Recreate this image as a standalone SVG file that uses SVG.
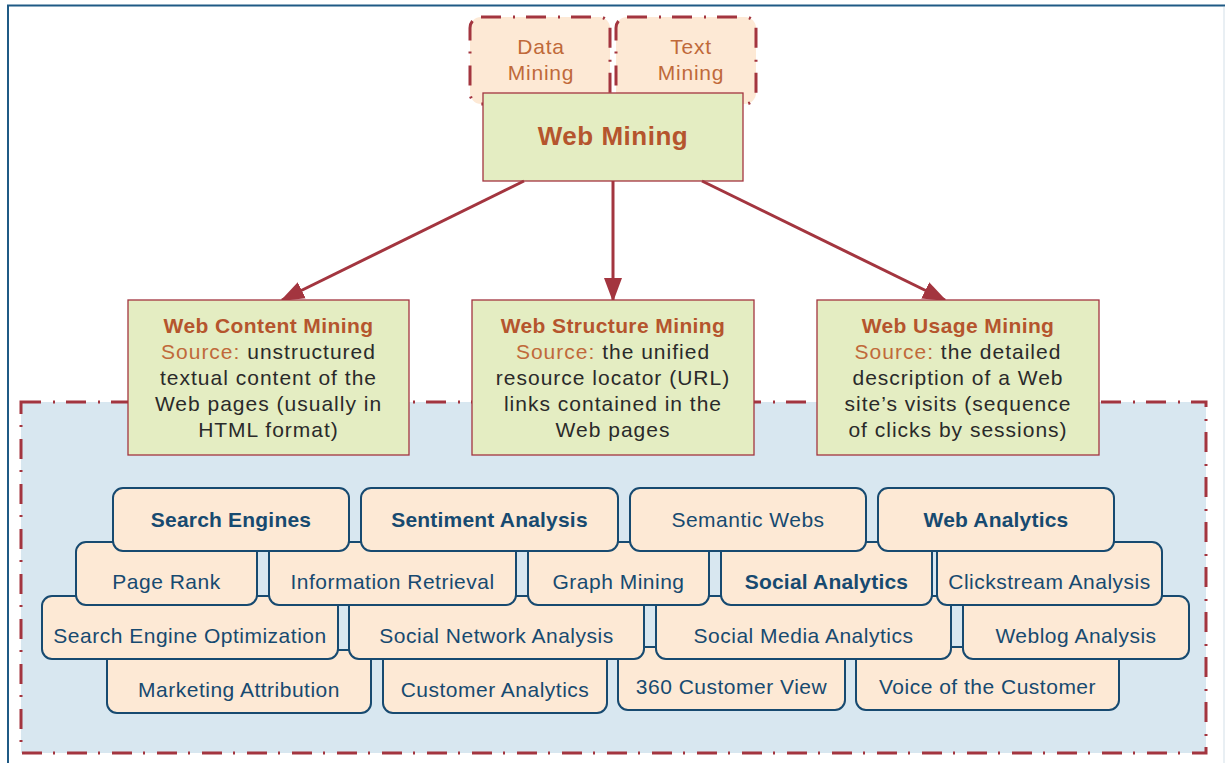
<svg xmlns="http://www.w3.org/2000/svg" width="1225" height="763" viewBox="0 0 1225 763">
<style>
text{font-family:"Liberation Sans",Arial,sans-serif;text-anchor:middle}
.dd{fill:#fde9d5;stroke:#a3353f;stroke-width:3;stroke-dasharray:20 12 2 11}
.ddt{font-size:21px;fill:#c0693a;letter-spacing:0.8px}
.g{fill:#e4edc2;stroke:#a3353f;stroke-width:1.3}
.gt{font-size:21px;fill:#2a2a2a;letter-spacing:1px}
.gh{font-weight:bold;fill:#b5552d;letter-spacing:0.4px}
.src{fill:#c0693a}
.p{fill:#fde9d5;stroke:#174a70;stroke-width:2}
.pt{font-size:21px;fill:#174a70;letter-spacing:0.5px}
.b{font-weight:bold;letter-spacing:0.2px}
.c{stroke:#a3353f;stroke-width:3;fill:none}
</style>
<defs>
<marker id="ah" markerUnits="userSpaceOnUse" markerWidth="24" markerHeight="20" refX="22" refY="9" orient="auto" viewBox="0 0 24 18">
<path d="M0,0 L24,9 L0,18 z" fill="#a3353f"/>
</marker>
</defs>
<rect width="1225" height="763" fill="#ffffff"/>
<path d="M8,763 V5.5 H1225" fill="none" stroke="#1f5a85" stroke-width="2"/>
<path d="M1224,7 V763" fill="none" stroke="#d3dfe8" stroke-width="1"/>

<g id="region">
<rect x="21" y="402" width="1185" height="351" fill="#d8e7f0" stroke="#a3353f" stroke-width="3" stroke-dasharray="20 12 2 11"/>
</g>

<g id="data-mining">
<rect class="dd" x="470" y="17" width="140" height="87" rx="11"/>
<text class="ddt" x="541" y="54">Data</text>
<text class="ddt" x="541" y="80">Mining</text>
</g>
<g id="text-mining">
<rect class="dd" x="616" y="17" width="140" height="87" rx="11"/>
<text class="ddt" x="691" y="54">Text</text>
<text class="ddt" x="691" y="80">Mining</text>
</g>
<g id="web-mining">
<rect class="g" x="483" y="93" width="260" height="88"/>
<text x="613" y="145" style="font-size:26px;font-weight:bold;fill:#b5552d;letter-spacing:0.5px">Web Mining</text>
</g>

<g id="connectors">
<line class="c" x1="524" y1="181" x2="282" y2="300" marker-end="url(#ah)"/>
<line class="c" x1="613" y1="181" x2="613" y2="300" marker-end="url(#ah)"/>
<line class="c" x1="702" y1="181" x2="945" y2="300" marker-end="url(#ah)"/>
</g>

<g id="web-content-mining">
<rect class="g" x="128" y="300" width="281" height="155"/>
<text class="gt" x="268.5" y="333"><tspan class="gh">Web Content Mining</tspan></text>
<text class="gt" x="268.5" y="359"><tspan class="src">Source:</tspan> unstructured</text>
<text class="gt" x="268.5" y="385">textual content of the</text>
<text class="gt" x="268.5" y="411">Web pages (usually in</text>
<text class="gt" x="268.5" y="437">HTML format)</text>
</g>
<g id="web-structure-mining">
<rect class="g" x="472" y="300" width="282" height="155"/>
<text class="gt" x="613" y="333"><tspan class="gh">Web Structure Mining</tspan></text>
<text class="gt" x="613" y="359"><tspan class="src">Source:</tspan> the unified</text>
<text class="gt" x="613" y="385">resource locator (URL)</text>
<text class="gt" x="613" y="411">links contained in the</text>
<text class="gt" x="613" y="437">Web pages</text>
</g>
<g id="web-usage-mining">
<rect class="g" x="817" y="300" width="282" height="155"/>
<text class="gt" x="958" y="333"><tspan class="gh">Web Usage Mining</tspan></text>
<text class="gt" x="958" y="359"><tspan class="src">Source:</tspan> the detailed</text>
<text class="gt" x="958" y="385">description of a Web</text>
<text class="gt" x="958" y="411">site’s visits (sequence</text>
<text class="gt" x="958" y="437">of clicks by sessions)</text>
</g>

<!-- row 4 -->
<g id="marketing-attribution"><rect class="p" x="107" y="650" width="264" height="63" rx="10"/><text class="pt" x="239" y="697">Marketing Attribution</text></g>
<g id="customer-analytics"><rect class="p" x="383" y="650" width="224" height="63" rx="10"/><text class="pt" x="495" y="697">Customer Analytics</text></g>
<g id="customer-view-360"><rect class="p" x="618" y="647" width="227" height="63" rx="10"/><text class="pt" x="731.5" y="694">360 Customer View</text></g>
<g id="voice-of-customer"><rect class="p" x="856" y="647" width="263" height="63" rx="10"/><text class="pt" x="987.5" y="694">Voice of the Customer</text></g>
<!-- row 3 -->
<g id="seo"><rect class="p" x="42" y="596" width="296" height="63" rx="10"/><text class="pt" x="190" y="643">Search Engine Optimization</text></g>
<g id="social-network-analysis"><rect class="p" x="349" y="596" width="295" height="63" rx="10"/><text class="pt" x="496.5" y="643">Social Network Analysis</text></g>
<g id="social-media-analytics"><rect class="p" x="656" y="596" width="295" height="63" rx="10"/><text class="pt" x="803.5" y="643">Social Media Analytics</text></g>
<g id="weblog-analysis"><rect class="p" x="963" y="596" width="226" height="63" rx="10"/><text class="pt" x="1076" y="643">Weblog Analysis</text></g>
<!-- row 2 -->
<g id="page-rank"><rect class="p" x="76" y="542" width="181" height="63" rx="10"/><text class="pt" x="166.5" y="589">Page Rank</text></g>
<g id="information-retrieval"><rect class="p" x="269" y="542" width="247" height="63" rx="10"/><text class="pt" x="392.5" y="589">Information Retrieval</text></g>
<g id="graph-mining"><rect class="p" x="528" y="542" width="181" height="63" rx="10"/><text class="pt" x="618.5" y="589">Graph Mining</text></g>
<g id="social-analytics"><rect class="p" x="721" y="542" width="211" height="63" rx="10"/><text class="pt b" x="826.5" y="589">Social Analytics</text></g>
<g id="clickstream-analysis"><rect class="p" x="937" y="542" width="225" height="63" rx="10"/><text class="pt" x="1049.5" y="589">Clickstream Analysis</text></g>
<!-- row 1 -->
<g id="search-engines"><rect class="p" x="113" y="488" width="236" height="63" rx="10"/><text class="pt b" x="231" y="527">Search Engines</text></g>
<g id="sentiment-analysis"><rect class="p" x="361" y="488" width="257" height="63" rx="10"/><text class="pt b" x="489.5" y="527">Sentiment Analysis</text></g>
<g id="semantic-webs"><rect class="p" x="630" y="488" width="236" height="63" rx="10"/><text class="pt" x="748" y="527">Semantic Webs</text></g>
<g id="web-analytics"><rect class="p" x="878" y="488" width="236" height="63" rx="10"/><text class="pt b" x="996" y="527">Web Analytics</text></g>
</svg>
